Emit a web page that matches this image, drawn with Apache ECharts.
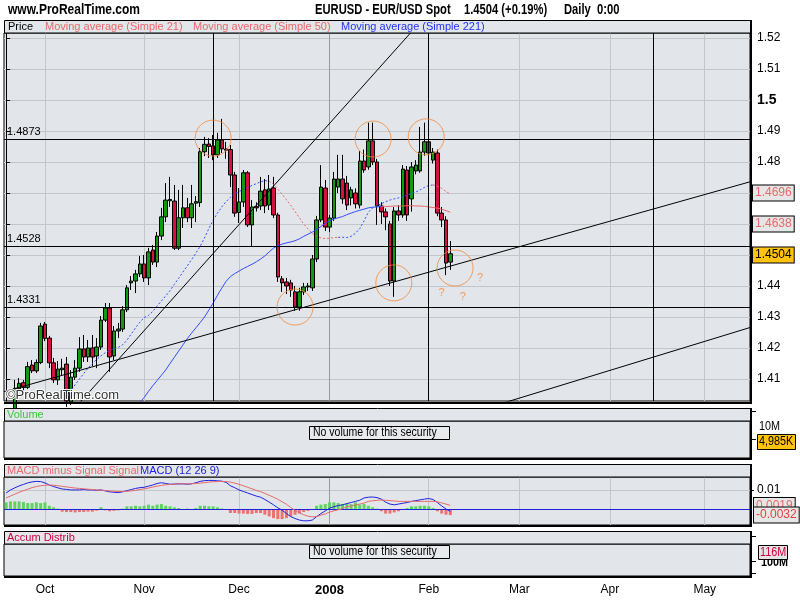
<!DOCTYPE html>
<html>
<head>
<meta charset="utf-8">
<script src="https://cdn.jsdelivr.net/npm/echarts@6/dist/echarts.min.js"></script>
<style>html,body{margin:0;padding:0;background:#fff}#c{width:800px;height:600px}</style>
</head>
<body>
<div id="c"></div>
<script>
// ---------- DATA ----------
const opens = [null,null,
1.3990,1.4068,1.4088,1.4073,1.4145,1.4126,1.4153,1.4277,
1.4232,1.4152,1.4097,1.4130,1.4148,1.4026,1.4106,1.4135,1.4197,1.4171,
1.4200,1.4174,1.4203,1.4290,1.4329,1.4174,1.4255,1.4261,1.4323,1.4410,
1.4416,1.4439,1.4471,1.4426,1.4516,1.4477,1.4561,1.4623,1.4675,1.4674,
1.4522,1.4620,1.4652,1.4620,1.4667,1.4669,1.4833,1.4858,1.4852,1.4823,
1.4871,1.4842,1.4840,1.4758,1.4637,1.4671,1.4765,1.4597,1.4656,1.4658,
1.4710,1.4661,1.4716,1.4629,1.4423,1.4413,1.4410,1.4381,1.4332,1.4381,
1.4397,1.4394,1.4487,1.4613,1.4716,1.4590,1.4619,1.4719,1.4745,1.4732,
1.4684,1.4700,1.4661,1.4803,1.4784,1.4868,1.4800,1.4658,1.4639,1.4600,
1.4416,1.4642,1.4629,1.4774,1.4681,1.4771,1.4771,1.4832,1.4865,1.4806,
1.4829,1.4635,1.4613,1.4477];
const closes = [null,null,
1.4070,1.4086,1.4073,1.4140,1.4126,1.4153,1.4271,1.4231,
1.4152,1.4097,1.4132,1.4135,1.4029,1.4106,1.4135,1.4197,1.4171,1.4200,
1.4171,1.4203,1.4290,1.4329,1.4171,1.4255,1.4261,1.4323,1.4394,1.4416,
1.4439,1.4471,1.4426,1.4510,1.4477,1.4561,1.4623,1.4677,1.4679,1.4522,
1.4620,1.4652,1.4620,1.4665,1.4672,1.4833,1.4857,1.4850,1.4823,1.4871,
1.4842,1.4838,1.4758,1.4635,1.4671,1.4765,1.4597,1.4655,1.4652,1.4706,
1.4658,1.4713,1.4629,1.4429,1.4410,1.4400,1.4387,1.4332,1.4381,1.4397,
1.4400,1.4487,1.4613,1.4719,1.4590,1.4619,1.4745,1.4745,1.4681,1.4661,
1.4710,1.4665,1.4803,1.4774,1.4868,1.4800,1.4658,1.4639,1.4623,1.4416,
1.4642,1.4629,1.4777,1.4629,1.4784,1.4790,1.4832,1.4865,1.4829,1.4832,
1.4635,1.4613,1.4474,1.4504];
const lows = [null,null,
1.3975,1.4062,1.4062,1.4068,1.4119,1.4119,1.4148,1.4222,
1.4135,1.4087,1.4081,1.4110,1.4010,1.4016,1.4097,1.4123,1.4155,1.4155,
1.4142,1.4135,1.4194,1.4284,1.4123,1.4161,1.4232,1.4252,1.4316,1.4387,
1.4377,1.4429,1.4413,1.4403,1.4468,1.4461,1.4548,1.4606,1.4655,1.4516,
1.4516,1.4587,1.4606,1.4587,1.4606,1.4655,1.4819,1.4813,1.4806,1.4813,
1.4829,1.4810,1.4719,1.4623,1.4603,1.4655,1.4590,1.4528,1.4640,1.4645,
1.4635,1.4645,1.4619,1.4413,1.4381,1.4374,1.4365,1.4320,1.4320,1.4371,
1.4384,1.4384,1.4477,1.4606,1.4577,1.4574,1.4610,1.4700,1.4665,1.4645,
1.4660,1.4650,1.4650,1.4765,1.4775,1.4790,1.4597,1.4600,1.4580,1.4400,
1.4365,1.4610,1.4620,1.4610,1.4640,1.4760,1.4765,1.4820,1.4815,1.4795,
1.4625,1.4590,1.4435,1.4452];
const highs = [null,null,
1.4097,1.4103,1.4097,1.4155,1.4161,1.4163,1.4281,1.4284,
1.4239,1.4168,1.4158,1.4165,1.4171,1.4129,1.4161,1.4235,1.4242,1.4226,
1.4242,1.4232,1.4303,1.4345,1.4345,1.4271,1.4281,1.4335,1.4403,1.4432,
1.4452,1.4497,1.4500,1.4523,1.4532,1.4574,1.4652,1.4732,1.4752,1.4726,
1.4710,1.4726,1.4684,1.4726,1.4690,1.4845,1.4881,1.4877,1.4887,1.4894,
1.4939,1.4865,1.4855,1.4768,1.4716,1.4774,1.4771,1.4677,1.4670,1.4752,
1.4745,1.4758,1.4752,1.4636,1.4432,1.4426,1.4420,1.4400,1.4394,1.4410,
1.4410,1.4500,1.4626,1.4790,1.4742,1.4629,1.4768,1.4823,1.4823,1.4755,
1.4720,1.4715,1.4835,1.4840,1.4927,1.4927,1.4810,1.4670,1.4650,1.4610,
1.4655,1.4660,1.4790,1.4787,1.4800,1.4806,1.4913,1.4927,1.4913,1.4845,
1.4840,1.4655,1.4625,1.4545];
const ma21 = [null,null,null,null,null,null,null,null,null,null,null,null,null,
1.4010,1.4040,1.4062,1.4082,1.4100,1.4118,1.4135,1.4150,1.4163,1.4175,1.4185,1.4192,1.4198,1.4202,1.4210,1.4225,1.4245,
1.4265,1.4283,1.4298,1.4305,1.4318,1.4335,1.4352,1.4368,1.4385,1.4405,1.4425,1.4445,1.4465,1.4485,1.4506,1.4528,1.4555,1.4585,1.4612,1.4635,
1.4655,1.4672,1.4686,1.4697,1.4705,1.4711,1.4718,1.4724,1.4730,1.4736,1.4740,1.4738,1.4728,1.4712,1.4696,1.4678,1.4660,1.4640,1.4620,1.4600,
1.4584,1.4570,1.4560,1.4555,1.4553,1.4554,1.4556,1.4557,1.4557,1.4556,1.4560,1.4570,1.4585,1.4610,1.4638,1.4652,1.4660,1.4665,1.4672,1.4677,
1.4681,1.4684,1.4688,1.4693,1.4698,1.4703,1.4710,1.4718,1.4724,1.4726,1.4722,1.4715,1.4705,1.4696];
const ma50 = [null,null,null,null,null,null,null,null,null,null,null,null,null,null,null,null,null,null,null,null,
null,null,null,null,null,null,null,null,null,null,null,
1.4025,1.4040,1.4060,1.4078,1.4095,1.4112,1.4129,1.4150,1.4170,
1.4190,1.4210,1.4230,1.4248,1.4265,1.4282,1.4300,1.4322,1.4345,1.4370,
1.4393,1.4415,1.4430,1.4440,1.4448,1.4456,1.4463,1.4470,1.4478,1.4487,
1.4497,1.4510,1.4522,1.4530,1.4535,1.4539,1.4542,1.4546,1.4552,1.4560,
1.4567,1.4574,1.4582,1.4592,1.4602,1.4610,1.4616,1.4620,1.4624,1.4630,
1.4635,1.4640,1.4644,1.4648,1.4652,1.4654,1.4655,1.4656,1.4656,1.4657,
1.4658,1.4658,1.4658,1.4659,1.4659,1.4658,1.4658,1.4657,1.4655,1.4653,
1.4651,1.4648,1.4643,1.4638];
// index where each moving average changes direction (colour: blue rising / red falling)
const ma21Turns = [61, 77, 99];
const ma50Turns = [87];
const macdLine = [
0.0084,0.0100,0.0111,0.0121,0.0129,0.0137,0.0142,0.0145,0.0144,0.0137,
0.0126,0.0118,0.0111,0.0105,0.0103,0.0100,0.0100,0.0100,0.0102,0.0100,
0.0100,0.0098,0.0100,0.0095,0.0090,0.0088,0.0086,0.0090,0.0096,0.0102,
0.0108,0.0112,0.0114,0.0120,0.0126,0.0134,0.0138,0.0134,0.0130,0.0131,
0.0132,0.0132,0.0130,0.0132,0.0138,0.0145,0.0149,0.0150,0.0150,0.0148,
0.0146,0.0140,0.0122,0.0112,0.0100,0.0092,0.0084,0.0076,0.0068,0.0062,
0.0050,0.0036,0.0022,0.0006,-0.0006,-0.0024,-0.0040,-0.0050,-0.0058,-0.0062,
-0.0062,-0.0058,-0.0040,-0.0024,-0.0010,0.0004,0.0012,0.0018,0.0022,0.0028,
0.0034,0.0040,0.0046,0.0058,0.0062,0.0063,0.0060,0.0052,0.0036,0.0026,
0.0022,0.0026,0.0030,0.0034,0.0040,0.0044,0.0048,0.0052,0.0055,0.0050,
0.0034,0.0016,0.0000,-0.0013];
const signalLine = [
0.0058,0.0068,0.0078,0.0088,0.0096,0.0104,0.0112,0.0118,0.0122,0.0125,
0.0126,0.0125,0.0122,0.0119,0.0116,0.0113,0.0110,0.0108,0.0106,0.0104,
0.0102,0.0100,0.0099,0.0097,0.0095,0.0093,0.0092,0.0092,0.0093,0.0095,
0.0098,0.0102,0.0106,0.0110,0.0115,0.0120,0.0124,0.0127,0.0129,0.0130,
0.0131,0.0132,0.0132,0.0133,0.0134,0.0136,0.0138,0.0141,0.0143,0.0144,
0.0145,0.0144,0.0141,0.0136,0.0130,0.0122,0.0114,0.0106,0.0098,0.0091,
0.0082,0.0072,0.0062,0.0051,0.0038,0.0025,0.0008,-0.0008,-0.0020,-0.0030,
-0.0038,-0.0041,-0.0040,-0.0032,-0.0026,-0.0016,-0.0010,-0.0004,0.0002,0.0012,
0.0016,0.0021,0.0026,0.0031,0.0040,0.0043,0.0046,0.0047,0.0046,0.0044,
0.0042,0.0040,0.0040,0.0040,0.0040,0.0040,0.0040,0.0040,0.0040,0.0040,
0.0038,0.0032,0.0026,0.0019];
const macdHist = [
0.0035,0.0040,0.0040,0.0040,0.0037,0.0031,0.0031,0.0035,0.0031,0.0035,
0.0017,0.0009,0.0002,-0.0014,-0.0016,-0.0016,-0.0018,-0.0016,-0.0016,-0.0014,
-0.0014,-0.0009,0.0009,-0.0007,-0.0012,-0.0010,-0.0007,0.0002,0.0014,0.0014,
0.0017,0.0014,0.0017,0.0023,0.0017,0.0023,0.0026,0.0017,0.0014,0.0009,
0.0005,-0.0005,0.0002,-0.0003,0.0005,0.0017,0.0017,0.0014,0.0014,0.0009,
0.0003,-0.0005,-0.0021,-0.0021,-0.0024,-0.0024,-0.0026,-0.0026,-0.0021,-0.0021,
-0.0030,-0.0039,-0.0048,-0.0053,-0.0053,-0.0048,-0.0039,-0.0030,-0.0024,-0.0016,
-0.0010,-0.0004,0.0017,0.0023,0.0026,0.0035,0.0035,0.0031,0.0026,0.0031,
0.0026,0.0035,0.0023,0.0026,0.0017,0.0009,0.0002,-0.0012,-0.0024,-0.0024,
-0.0018,-0.0012,-0.0004,0.0005,0.0014,0.0014,0.0017,0.0017,0.0014,0.0005,
-0.0012,-0.0024,-0.0030,-0.0032];
const priceTicks = [1.41,1.42,1.43,1.44,1.45,1.46,1.47,1.48,1.49,1.5,1.51,1.52];
const macdTicks = [0.01];
const monthLabels = ['Oct','Nov','Dec','2008','Feb','Mar','Apr','May'];
const levelLines = [1.4873, 1.4528, 1.4331];
const markerDays = ['2007-11-23','2008-02-01','2008-04-15'];
const trendLines = [
  [[-0.5, 1.4059],[172.5, 1.4736]],
  [[10, 1.3914],[100, 1.5313]],
  [[110, 1.4000],[172.5, 1.4266]]
];
const circles = [[48.0,1.4877],[85.1,1.4874],[97.4,1.4881],[67.0,1.4332],[89.9,1.4410],[104.1,1.4458]];
const questionMarks = [[101.0,1.4378],[105.9,1.4366],[109.9,1.4425]];
const lastClose = 1.4504, lastMa21 = 1.4696, lastMa50 = 1.4638;
const lastSignal = 0.0019, lastHist = -0.0032;

// ---------- categories (trading weekdays) ----------
const categories = [];
(function(){
  let t = Date.UTC(2007,8,18); const end = Date.UTC(2008,4,15);
  while (t <= end) { const d = new Date(t); const wd = d.getUTCDay();
    if (wd !== 0 && wd !== 6) categories.push(d.toISOString().slice(0,10));
    t += 86400000; }
})();
const monthStartIdx = [];
for (let i = 1; i < categories.length; i++) {
  if (categories[i].slice(0,7) !== categories[i-1].slice(0,7)) monthStartIdx.push(i);
}
const isMonthStart = (i) => monthStartIdx.indexOf(i) >= 0;

const candleData = opens.map((o,i) => o == null ? '-' : [o, closes[i], lows[i], highs[i]]);

const BLUE = '#2f4dff', RED = '#e66a6a', BG = '#e2e6ea', FONT = '"Liberation Sans", Arial, sans-serif';
const gridLineColors = ['#c3c6c9','#c3c6c9','#c3c6c9','#9a9a9a','#c3c6c9','#c3c6c9','#c3c6c9','#c3c6c9'];
const L = 4, W = 746;

// split a moving average into rising (blue) / falling (red) pieces
function maSegments(arr, turns, dashed){
  const bounds = [0].concat(turns).concat([arr.length - 1]);
  const out = [];
  for (let s = 0; s < bounds.length - 1; s++) {
    const a = bounds[s], b = bounds[s+1];
    out.push({type:'line', xAxisIndex:0, yAxisIndex:0, showSymbol:false, symbol:'none', silent:true, z:4,
      data: arr.map((v,i) => (i >= a && i <= b) ? v : null),
      lineStyle:{width:1, color: s % 2 === 0 ? BLUE : RED, type: dashed ? [2,2] : 'solid'}});
  }
  return out;
}

// ---------- decorations ----------
const G = [];
function rect(x,y,w,h,fill,stroke,z){ G.push({type:'rect', silent:true, z:z||10, shape:{x:x,y:y,width:w,height:h}, style:{fill:fill, stroke:stroke||null, lineWidth:stroke?1:0}}); }
function txt(x,y,t,font,fill,extra){ G.push(Object.assign({type:'text', silent:true, z:60, x:x, y:y,
  style:{text:t, font:font, fill:fill, align:'left', verticalAlign:'middle'}}, extra||{})); }

// headers
txt(8, 10, 'www.ProRealTime.com', 'bold 15px ' + FONT, '#000', {scaleX:0.8});
txt(315, 10, 'EURUSD - EUR/USD Spot', 'bold 14px ' + FONT, '#000', {scaleX:0.8});
txt(464, 10, '1.4504 (+0.19%)', 'bold 14px ' + FONT, '#000', {scaleX:0.8});
txt(564, 10, 'Daily  0:00', 'bold 14px ' + FONT, '#000', {scaleX:0.8});
// main legend row
rect(L+0.5, 20.5, W, 12.5, BG, '#000');
txt(8, 27, 'Price', '11px ' + FONT, '#000');
txt(45, 27, 'Moving average (Simple 21)', '11px ' + FONT, RED);
txt(193, 27, 'Moving average (Simple 50)', '11px ' + FONT, RED);
txt(341, 27, 'Moving average (Simple 221)', '11px ' + FONT, '#2233ee');
// volume panel header
rect(L+0.5, 408.5, W, 12.5, BG, '#000');
txt(7, 415, 'Volume', '11px ' + FONT, '#3cc43c');
// macd header
rect(L+0.5, 464.5, W, 12.5, BG, '#000');
txt(7, 471, 'MACD minus Signal Signal', '11px ' + FONT, RED);
txt(140, 471, 'MACD (12 26 9)', '11px ' + FONT, '#2020d8');
// accum header
rect(L+0.5, 531.5, W, 12.5, BG, '#000');
txt(7, 538, 'Accum Distrib', '11px ' + FONT, '#d0003a');
// "no volume" boxes
rect(309.5, 426.5, 140, 13, '#e8ebee', '#000', 40);
txt(313, 433, 'No volume for this security', '12px ' + FONT, '#000', {scaleX:0.875});
rect(309.5, 545.5, 140, 13, '#e8ebee', '#000', 40);
txt(313, 552, 'No volume for this security', '12px ' + FONT, '#000', {scaleX:0.875});
// thick right / bottom borders (shadow look)
[[20,403],[408,460],[464,527],[531,578]].forEach(function(p){ rect(750, p[0], 2, p[1]-p[0], '#000', null, 70); });
[402,458,525,576].forEach(function(y){ rect(L, y, 748, 2, '#000', null, 70); });
// volume right side scale texts
rect(752, 411, 4, 1, '#000', null, 70); rect(752, 439, 4, 1, '#000', null, 70);
txt(759, 427, '10M', '12px ' + FONT, '#000', {scaleX:0.9});
rect(757.5, 434.5, 38, 15, '#ffc20e', '#000', 70);
txt(759, 442, '4,985K', '12px ' + FONT, '#000', {scaleX:0.9, z:75});
// accum right side
rect(752, 536, 4, 1, '#000', null, 70); rect(752, 561, 4, 1, '#000', null, 70); rect(752, 573, 4, 1, '#000', null, 70);
txt(761, 563, '100M', 'bold 12px ' + FONT, '#000', {scaleX:0.9});
rect(758.5, 545.5, 29, 14, '#e4e4e4', '#000', 72);
txt(760, 553, '116M', '12px ' + FONT, '#d0003a', {scaleX:0.9, z:75});
// watermark
G.push({type:'text', silent:true, z:80, x:6, y:395, style:{text:'\u00A9ProRealTime.com', font:'13px ' + FONT, fill:'#333', stroke:'#fff', lineWidth:2, align:'left', verticalAlign:'middle'}});

// ---------- chart ----------
const chart = echarts.init(document.getElementById('c'), null, {renderer:'canvas'});
const splitMonths = {show:true, alignWithLabel:true, interval:function(i){ return isMonthStart(i); }, lineStyle:{color:gridLineColors, width:1}};

// value tag at the right end of the price scale
function tagSeries(xi, yi, v, color, bg, z){
  return {type:'line', xAxisIndex:xi, yAxisIndex:yi, data:[], silent:true, z:z,
    markLine:{silent:true, symbol:['none','none'], z:z,
      data:[{yAxis:v, lineStyle:{color:'rgba(0,0,0,0)', width:1},
        label:{show:true, position:'end', distance:3, formatter:v.toFixed(4), color:color, fontSize:12, fontFamily:FONT,
          backgroundColor:bg, borderColor:'#000', borderWidth:1, padding:[2,2,1,2]}}]}};
}

const series = [
  {type:'candlestick', name:'Price', xAxisIndex:0, yAxisIndex:0, data:candleData, barWidth:4, z:3, silent:true,
    itemStyle:{color:'#119a11', color0:'#d3123f', borderColor:'#000', borderColor0:'#000', borderWidth:1},
    markLine:{silent:true, symbol:['none','none'], precision:4, z:6,
      data: markerDays.map(function(d){ return {xAxis:d, lineStyle:{color:'#000', width:1, type:'solid'}, label:{show:false}}; })
        .concat(levelLines.map(function(v){ return {yAxis:v, lineStyle:{color:'#000', width:1, type:'solid'},
          label:{show:true, position:'insideStartTop', formatter:v.toFixed(4), color:'#000', fontSize:11, distance:[3,2]}}; }))}},
  tagSeries(0, 0, lastMa21, RED, '#e6e6e6', 9),
  tagSeries(0, 0, lastMa50, RED, '#e6e6e6', 9),
  tagSeries(0, 0, lastClose, '#000', '#ffc20e', 9)
].concat(maSegments(ma21, ma21Turns, true))
 .concat(maSegments(ma50, ma50Turns, false))
 .concat(trendLines.map(function(seg){
  return {type:'line', xAxisIndex:1, yAxisIndex:0, data:seg, showSymbol:false, symbol:'none', silent:true, z:5, clip:true,
    lineStyle:{color:'#000', width:1}};
 })).concat([
  {type:'scatter', xAxisIndex:1, yAxisIndex:0, data:circles, symbol:'circle', symbolSize:36, silent:true, z:7,
    itemStyle:{color:'rgba(0,0,0,0)', borderColor:'#f5873a', borderWidth:1}},
  {type:'scatter', xAxisIndex:1, yAxisIndex:0, data:questionMarks, symbolSize:1, silent:true, z:7,
    itemStyle:{color:'rgba(0,0,0,0)'},
    label:{show:true, position:'inside', formatter:'?', color:'#f5873a', fontSize:11}},
  {type:'bar', name:'MACD minus Signal', xAxisIndex:3, yAxisIndex:2, data:macdHist, barWidth:3, silent:true, z:2,
    itemStyle:{color:function(p){ return p.value >= 0 ? '#5fd35f' : '#ef7070'; }},
    markLine:{silent:true, symbol:['none','none'], z:3,
      data:[{yAxis:0, lineStyle:{color:'#2020d8', width:1, type:'solid'}, label:{show:false}}]}},
  {type:'line', name:'MACD', xAxisIndex:3, yAxisIndex:2, data:macdLine, showSymbol:false, symbol:'none', silent:true, z:4,
    lineStyle:{color:'#2020e0', width:1}},
  {type:'line', name:'Signal', xAxisIndex:3, yAxisIndex:2, data:signalLine, showSymbol:false, symbol:'none', silent:true, z:4,
    lineStyle:{color:RED, width:1}}
 ]);

const option = {
  animation:false,
  backgroundColor:'#fff',
  textStyle:{fontFamily:FONT},
  grid:[
    {left:L, top:33, width:W, height:368, show:true, backgroundColor:BG, borderColor:'#000', borderWidth:1},
    {left:L, top:421, width:W, height:37, show:true, backgroundColor:BG, borderColor:'#000', borderWidth:1},
    {left:L, top:477, width:W, height:48, show:true, backgroundColor:BG, borderColor:'#000', borderWidth:1},
    {left:L, top:544, width:W, height:32, show:true, backgroundColor:BG, borderColor:'#000', borderWidth:1}
  ],
  xAxis:[
    {type:'category', gridIndex:0, data:categories, boundaryGap:true, axisLine:{show:false}, axisTick:{show:false}, axisLabel:{show:false}, splitLine:splitMonths},
    {type:'value', gridIndex:0, min:-0.5, max:172.5, show:false},
    {type:'category', gridIndex:1, data:categories, show:false},
    {type:'category', gridIndex:2, data:categories, boundaryGap:true, axisLine:{show:false}, axisTick:{show:false}, axisLabel:{show:false}, splitLine:splitMonths},
    {type:'category', gridIndex:3, data:categories, boundaryGap:true, axisLine:{show:false}, axisTick:{show:false}, splitLine:{show:false},
      axisLabel:{show:true, interval:function(i){ return isMonthStart(i); }, margin:8, color:'#000', fontSize:12, fontFamily:FONT,
        formatter:function(v, i){ const k = monthStartIdx.indexOf(i); if (k < 0) return ''; const s = monthLabels[k]; return s === '2008' ? '{b|2008}' : s; },
        rich:{b:{fontWeight:'bold', fontSize:13, fontFamily:FONT, color:'#000'}}}}
  ],
  yAxis:[
    {type:'value', gridIndex:0, position:'right', min:1.4029, max:1.5216,
      axisLine:{show:true, lineStyle:{color:'#000', width:1}},
      axisTick:{show:true, customValues:priceTicks, length:4, lineStyle:{color:'#000'}},
      axisLabel:{show:true, customValues:priceTicks, margin:7, color:'#000', fontSize:12, fontFamily:FONT,
        formatter:function(v){ return Math.abs(v-1.5) < 1e-9 ? '{b|1.5}' : v.toFixed(2); },
        rich:{b:{fontWeight:'bold', fontSize:14, fontFamily:FONT, color:'#000'}}},
      splitLine:{show:true, lineStyle:{color:'#c3c6c9', width:1}}},
    {type:'value', gridIndex:1, min:0, max:1, show:false},
    {type:'value', gridIndex:2, position:'right', min:-0.0084, max:0.0168,
      axisLine:{show:true, lineStyle:{color:'#000'}},
      axisTick:{show:true, customValues:macdTicks, length:4, lineStyle:{color:'#000'}},
      axisLabel:{show:true, customValues:macdTicks, margin:7, color:'#000', fontSize:12, formatter:function(v){ return '0.01'; }},
      splitLine:{show:true, lineStyle:{color:'#c3c6c9'}}},
    {type:'value', gridIndex:3, min:0, max:1, show:false}
  ],
  series:series,
  graphic:G
};
chart.setOption(option);

// MACD value tags, placed through the MACD value scale
const macdTags = [[lastSignal, RED], [lastHist, '#e04040']].map(function(t, k){
  const y = chart.convertToPixel({yAxisIndex:2}, t[0]);
  return {type:'text', silent:true, z:90 + k, x:754, y:y,
    style:{text:t[0].toFixed(4), font:'12px ' + FONT, fill:t[1], align:'left', verticalAlign:'middle',
      backgroundColor:'#e6e6e6', borderColor:'#000', borderWidth:1, padding:[2,2,1,2]}};
});
chart.setOption({graphic: G.concat(macdTags)});
</script>
</body>
</html>
